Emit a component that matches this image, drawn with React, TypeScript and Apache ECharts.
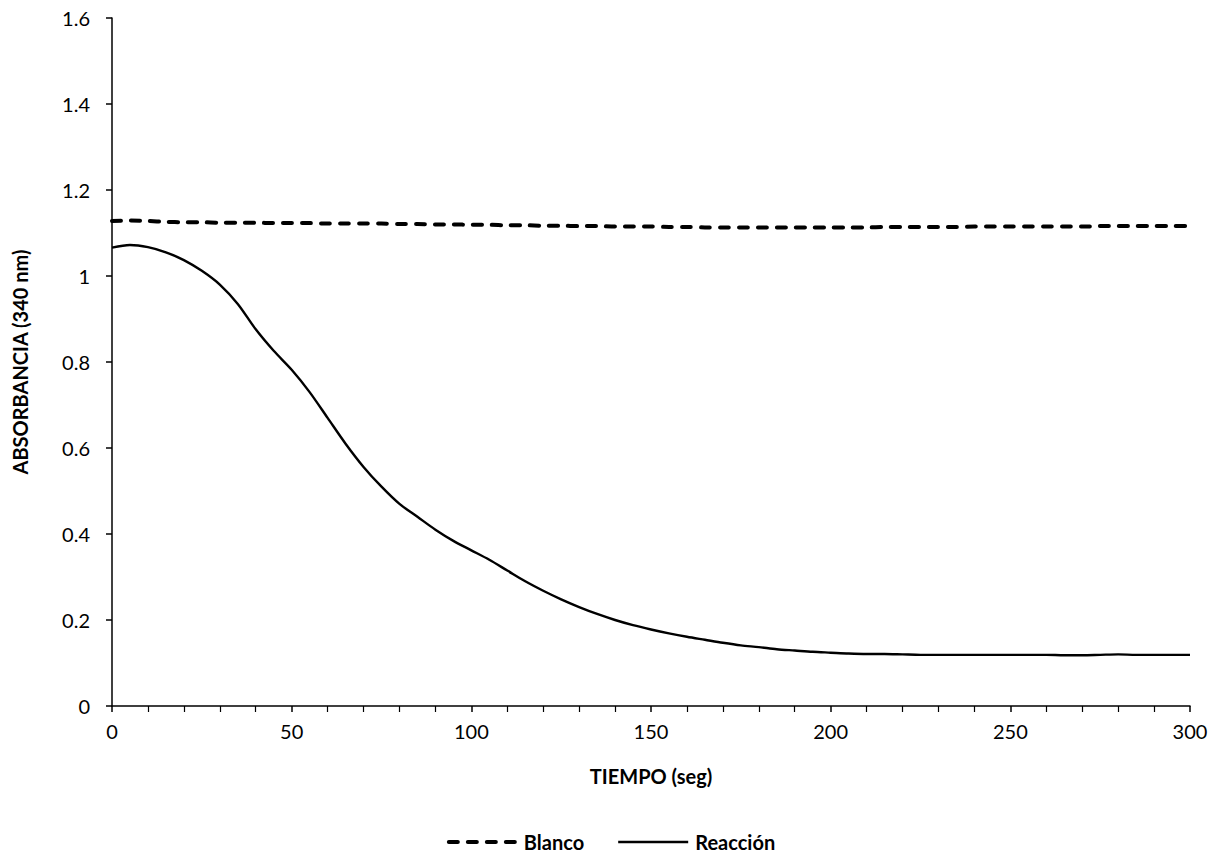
import React, { useEffect, useRef } from "react";
import * as echarts from "echarts";

const tiempo: number[] = [
  0, 5, 10, 15, 20, 25, 30, 35, 40, 45, 50, 55, 60, 65, 70, 75, 80, 85, 90, 95,
  100, 105, 110, 115, 120, 125, 130, 135, 140, 145, 150, 155, 160, 165, 170, 175, 180, 185, 190, 195,
  200, 205, 210, 215, 220, 225, 230, 235, 240, 245, 250, 255, 260, 265, 270, 275, 280, 285, 290, 295, 300,
];

const blanco: number[] = [
  1.128, 1.129, 1.128, 1.126, 1.125, 1.125, 1.124, 1.124, 1.124, 1.123, 1.123, 1.123, 1.122, 1.122, 1.122, 1.122, 1.121, 1.121, 1.120, 1.120,
  1.119, 1.119, 1.118, 1.118, 1.117, 1.117, 1.116, 1.116, 1.115, 1.115, 1.115, 1.114, 1.114, 1.113, 1.113, 1.113, 1.113, 1.113, 1.113, 1.113,
  1.113, 1.113, 1.113, 1.114, 1.114, 1.114, 1.114, 1.114, 1.115, 1.115, 1.115, 1.115, 1.115, 1.115, 1.115, 1.116, 1.116, 1.116, 1.116, 1.116, 1.116,
];

const reaccion: number[] = [
  1.066, 1.072, 1.067, 1.055, 1.037, 1.012, 0.98, 0.935, 0.876, 0.826, 0.782, 0.73, 0.67, 0.61, 0.556, 0.51, 0.47, 0.44, 0.41, 0.384,
  0.362, 0.34, 0.315, 0.29, 0.268, 0.248, 0.23, 0.214, 0.2, 0.188, 0.178, 0.169, 0.161, 0.154, 0.147, 0.141, 0.137, 0.132, 0.129, 0.126,
  0.124, 0.122, 0.121, 0.121, 0.12, 0.119, 0.119, 0.119, 0.119, 0.119, 0.119, 0.119, 0.119, 0.118, 0.118, 0.119, 0.12, 0.119, 0.119, 0.119, 0.119,
];

const FONT = "Lato, 'Open Sans', sans-serif";

const DASH_ICON =
  "path://M2,0h9a2,2 0 0 1 0,4h-9a2,2 0 0 1 0,-4z M21,0h9a2,2 0 0 1 0,4h-9a2,2 0 0 1 0,-4z M40,0h9a2,2 0 0 1 0,4h-9a2,2 0 0 1 0,-4z M59,0h9a2,2 0 0 1 0,4h-9a2,2 0 0 1 0,-4z";
const SOLID_ICON = "path://M0,0.8h70v2.4h-70z M0,0h0.01v4h-0.01z M69.99,0h0.01v4h-0.01z";

export default function App() {
  const ref = useRef<HTMLDivElement>(null);
  useEffect(() => {
    if (!ref.current) return;
    const chart = echarts.init(ref.current, undefined, { renderer: "svg" });
    chart.setOption({
      animation: false,
      backgroundColor: "#ffffff",
      grid: { left: 112, right: 32, top: 18, bottom: 151, containLabel: false },
      legend: {
        bottom: 0,
        left: "center",
        itemWidth: 70,
        itemHeight: 4,
        itemGap: 34,
        textStyle: { fontFamily: FONT, fontSize: 20, fontWeight: "bold", color: "#000", padding: [0, 0, 0, 2] },
        data: [
          { name: "Blanco", icon: DASH_ICON, itemStyle: { color: "#000" } },
          { name: "Reacción", icon: SOLID_ICON, itemStyle: { color: "#000" } },
        ],
      },
      xAxis: {
        type: "value",
        min: 0,
        max: 300,
        interval: 50,
        name: "TIEMPO (seg)",
        nameLocation: "middle",
        nameGap: 60,
        nameTextStyle: { fontFamily: FONT, fontSize: 20, fontWeight: "bold", color: "#000" },
        axisLine: { show: true, onZero: false, lineStyle: { color: "#000", width: 1.5 } },
        axisTick: { show: true, length: 6, lineStyle: { color: "#000", width: 1.5 } },
        minorTick: { show: true, splitNumber: 5, length: 6, lineStyle: { color: "#000", width: 1.2 } },
        axisLabel: { fontFamily: FONT, fontSize: 20, color: "#000", margin: 15 },
        splitLine: { show: false },
      },
      yAxis: {
        type: "value",
        min: 0,
        max: 1.6,
        interval: 0.2,
        name: "ABSORBANCIA (340 nm)",
        nameLocation: "middle",
        nameGap: 82,
        nameRotate: 90,
        nameTextStyle: { fontFamily: FONT, fontSize: 20, fontWeight: "bold", color: "#000" },
        axisLine: { show: true, lineStyle: { color: "#000", width: 1.5 } },
        axisTick: { show: true, length: 6, lineStyle: { color: "#000", width: 1.5 } },
        axisLabel: {
          fontFamily: FONT,
          fontSize: 20,
          color: "#000",
          margin: 22,
          formatter: (v: number) => String(parseFloat(v.toFixed(1))),
        },
        splitLine: { show: false },
      },
      series: [
        {
          name: "Blanco",
          type: "line",
          data: tiempo.map((t, i) => [t, blanco[i]]),
          showSymbol: false,
          symbol: "none",
          smooth: 0.3,
          lineStyle: { color: "#000", width: 4, type: [9, 10], cap: "round" },
          itemStyle: { color: "#000" },
        },
        {
          name: "Reacción",
          type: "line",
          data: tiempo.map((t, i) => [t, reaccion[i]]),
          showSymbol: false,
          symbol: "none",
          smooth: 0.3,
          lineStyle: { color: "#000", width: 2.4 },
          itemStyle: { color: "#000" },
        },
      ],
    });
    return () => chart.dispose();
  }, []);
  return (
    <div
      ref={ref}
      style={{ position: "fixed", left: 0, top: 0, width: 1222, height: 857, background: "#fff" }}
    />
  );
}
